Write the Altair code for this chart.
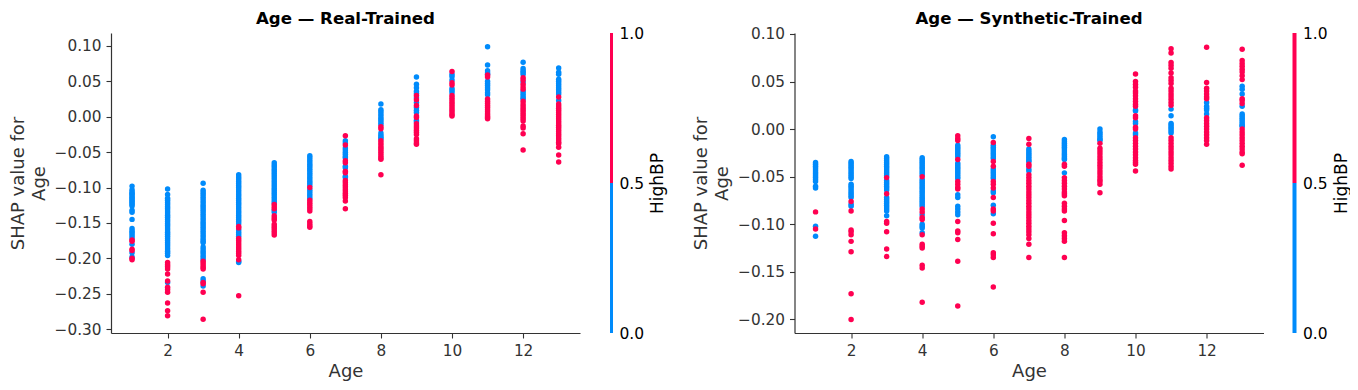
import altair as alt
import pandas as pd

AGES = list(range(1, 14))
TICKS_X = [2, 4, 6, 8, 10, 12]
TICKS_Y_REAL = [0.10, 0.05, 0.0, -0.05, -0.10, -0.15, -0.20, -0.25, -0.30]
TICKS_Y_SYN = [0.10, 0.05, 0.0, -0.05, -0.10, -0.15, -0.20]

REAL_BLUE = {
    1: [-0.098, -0.103, -0.106, -0.108, -0.110, -0.112, -0.114, -0.116, -0.118, -0.120, -0.122, -0.124, -0.126, -0.132, -0.135, -0.145, -0.158, -0.161, -0.163, -0.166, -0.169, -0.172, -0.180, -0.192, -0.198],
    2: [-0.102, -0.110, -0.115, -0.118, -0.121, -0.124, -0.127, -0.130, -0.133, -0.136, -0.139, -0.142, -0.145, -0.148, -0.151, -0.154, -0.157, -0.160, -0.163, -0.166, -0.169, -0.172, -0.175, -0.178, -0.181, -0.184, -0.187, -0.190, -0.193, -0.196, -0.234],
    3: [-0.094, -0.104, -0.107, -0.110, -0.113, -0.116, -0.119, -0.122, -0.125, -0.128, -0.131, -0.134, -0.137, -0.140, -0.143, -0.146, -0.149, -0.152, -0.155, -0.158, -0.161, -0.164, -0.167, -0.170, -0.173, -0.176, -0.178, -0.184, -0.187, -0.190, -0.193, -0.196, -0.199, -0.202, -0.229, -0.232, -0.239],
    4: [-0.082, -0.085, -0.088, -0.091, -0.094, -0.097, -0.100, -0.103, -0.106, -0.109, -0.112, -0.115, -0.118, -0.121, -0.124, -0.127, -0.130, -0.133, -0.136, -0.139, -0.142, -0.145, -0.148, -0.151, -0.160, -0.163, -0.166, -0.169, -0.204, -0.206],
    5: [-0.065, -0.068, -0.071, -0.074, -0.077, -0.080, -0.083, -0.086, -0.089, -0.092, -0.095, -0.098, -0.101, -0.104, -0.107, -0.110, -0.113, -0.116, -0.119, -0.122, -0.132, -0.135],
    6: [-0.055, -0.058, -0.061, -0.064, -0.067, -0.070, -0.073, -0.076, -0.079, -0.082, -0.085, -0.088, -0.091, -0.094, -0.097, -0.103, -0.106, -0.109, -0.112, -0.115],
    7: [-0.034, -0.037, -0.044, -0.047, -0.050, -0.053, -0.056, -0.058, -0.070, -0.072, -0.084, -0.086],
    8: [0.018, 0.010, 0.007, 0.004, 0.001, -0.002, -0.005, -0.008, -0.011, -0.023, -0.026, -0.029, -0.031],
    9: [0.056, 0.046, 0.041, 0.036, 0.033, 0.027, 0.020, 0.013, 0.009, 0.006, -0.005, -0.007],
    10: [0.060, 0.057, 0.052, 0.040, 0.037, 0.034],
    11: [0.099, 0.073, 0.065, 0.062, 0.060, 0.050, 0.047, 0.044, 0.041, 0.038, 0.034, 0.031],
    12: [0.077, 0.068, 0.065, 0.063, 0.060, 0.049, 0.036, 0.033, 0.030, 0.027, 0.025],
    13: [0.069, 0.063, 0.060, 0.053, 0.050, 0.047, 0.044, 0.041, 0.038, 0.035, 0.032, 0.023],
}
REAL_RED = {
    1: [-0.174, -0.176, -0.187, -0.189, -0.200, -0.202],
    2: [-0.206, -0.209, -0.212, -0.215, -0.222, -0.232, -0.241, -0.244, -0.248, -0.263, -0.274, -0.281],
    3: [-0.204, -0.207, -0.210, -0.213, -0.215, -0.234, -0.236, -0.248, -0.286],
    4: [-0.155, -0.157, -0.172, -0.175, -0.178, -0.181, -0.184, -0.187, -0.190, -0.193, -0.196, -0.202, -0.253],
    5: [-0.124, -0.127, -0.130, -0.140, -0.143, -0.146, -0.152, -0.155, -0.158, -0.161, -0.164, -0.167],
    6: [-0.100, -0.118, -0.121, -0.124, -0.127, -0.130, -0.133, -0.148, -0.151, -0.154, -0.156],
    7: [-0.027, -0.040, -0.062, -0.065, -0.077, -0.079, -0.090, -0.093, -0.096, -0.099, -0.102, -0.105, -0.108, -0.111, -0.114, -0.119, -0.130],
    8: [-0.014, -0.017, -0.034, -0.037, -0.040, -0.043, -0.046, -0.049, -0.052, -0.055, -0.058, -0.060, -0.082],
    9: [0.030, 0.024, 0.016, 0.001, -0.001, -0.010, -0.013, -0.016, -0.019, -0.022, -0.025, -0.031, -0.034, -0.037, -0.039],
    10: [0.064, 0.048, 0.045, 0.030, 0.027, 0.024, 0.021, 0.018, 0.015, 0.012, 0.009, 0.006, 0.003, 0.001],
    11: [0.059, 0.056, 0.025, 0.022, 0.019, 0.016, 0.013, 0.010, 0.007, 0.004, 0.001, -0.001, -0.003],
    12: [0.055, 0.052, 0.046, 0.042, 0.039, 0.022, 0.018, 0.015, 0.012, 0.009, 0.006, 0.003, 0.000, -0.003, -0.006, -0.013, -0.016, -0.024, -0.047],
    13: [0.028, 0.018, 0.015, 0.012, 0.009, 0.006, 0.003, 0.000, -0.003, -0.006, -0.009, -0.012, -0.015, -0.018, -0.021, -0.024, -0.027, -0.030, -0.033, -0.036, -0.038, -0.043, -0.054, -0.064],
}
SYN_BLUE = {
    1: [-0.035, -0.037, -0.039, -0.041, -0.043, -0.045, -0.047, -0.049, -0.051, -0.053, -0.055, -0.060, -0.062, -0.102, -0.1125],
    2: [-0.034, -0.036, -0.038, -0.040, -0.042, -0.044, -0.046, -0.048, -0.050, -0.052, -0.058, -0.060, -0.062, -0.064, -0.066, -0.068, -0.070, -0.072, -0.079, -0.081],
    3: [-0.029, -0.031, -0.033, -0.035, -0.037, -0.039, -0.041, -0.043, -0.045, -0.047, -0.049, -0.054, -0.056, -0.058, -0.060, -0.062, -0.064, -0.072, -0.074, -0.076, -0.078, -0.080, -0.082, -0.084, -0.086, -0.091],
    4: [-0.030, -0.032, -0.034, -0.036, -0.038, -0.040, -0.042, -0.044, -0.046, -0.048, -0.053, -0.055, -0.057, -0.059, -0.061, -0.063, -0.065, -0.067, -0.069, -0.071, -0.073, -0.075, -0.077, -0.079, -0.081, -0.090, -0.100, -0.102, -0.104, -0.109],
    5: [-0.017, -0.019, -0.021, -0.023, -0.025, -0.027, -0.029, -0.036, -0.038, -0.040, -0.042, -0.044, -0.046, -0.048, -0.050, -0.052, -0.069, -0.072, -0.081, -0.084, -0.087, -0.090],
    6: [-0.008, -0.017, -0.019, -0.021, -0.023, -0.025, -0.027, -0.029, -0.031, -0.042, -0.044, -0.046, -0.048, -0.050, -0.052, -0.065, -0.067, -0.080, -0.089],
    7: [-0.021, -0.023, -0.025, -0.027, -0.029, -0.031, -0.033, -0.034, -0.042, -0.044],
    8: [-0.011, -0.013, -0.015, -0.017, -0.019, -0.021, -0.023, -0.025, -0.027, -0.029, -0.031, -0.032, -0.046],
    9: [0.000, -0.003, -0.005, -0.007, -0.009, -0.011, -0.012],
    10: [0.020, 0.019, 0.008, 0.006, -0.004, -0.006],
    11: [0.021, 0.014, 0.006, 0.004, 0.002, 0.000, -0.002, -0.004],
    12: [0.028, 0.024, 0.022, 0.020, 0.016],
    13: [0.045, 0.042, 0.037, 0.024, 0.016, 0.014, 0.012, 0.010, 0.008, 0.006, 0.004, 0.003],
}
SYN_RED = {
    1: [-0.087, -0.105],
    2: [-0.076, -0.086, -0.106, -0.108, -0.111, -0.118, -0.129, -0.173, -0.200],
    3: [-0.051, -0.068, -0.097, -0.099, -0.108, -0.126, -0.134],
    4: [-0.050, -0.084, -0.087, -0.093, -0.095, -0.111, -0.121, -0.123, -0.125, -0.143, -0.146, -0.182],
    5: [-0.007, -0.010, -0.012, -0.032, -0.055, -0.058, -0.061, -0.063, -0.097, -0.107, -0.109, -0.116, -0.139, -0.186],
    6: [-0.014, -0.034, -0.039, -0.055, -0.058, -0.062, -0.072, -0.084, -0.086, -0.099, -0.110, -0.130, -0.132, -0.135, -0.166],
    7: [-0.010, -0.016, -0.037, -0.039, -0.048, -0.051, -0.054, -0.057, -0.060, -0.063, -0.066, -0.069, -0.072, -0.075, -0.078, -0.081, -0.084, -0.087, -0.090, -0.093, -0.096, -0.099, -0.102, -0.105, -0.108, -0.111, -0.115, -0.121, -0.135],
    8: [-0.037, -0.039, -0.051, -0.054, -0.057, -0.060, -0.063, -0.066, -0.068, -0.070, -0.078, -0.081, -0.084, -0.086, -0.096, -0.109, -0.112, -0.115, -0.118, -0.135],
    9: [-0.015, -0.020, -0.023, -0.026, -0.029, -0.032, -0.035, -0.038, -0.041, -0.044, -0.047, -0.050, -0.053, -0.055, -0.058, -0.067],
    10: [0.058, 0.050, 0.047, 0.044, 0.040, 0.038, 0.035, 0.032, 0.029, 0.026, 0.024, 0.014, 0.012, 0.002, 0.000, -0.009, -0.012, -0.015, -0.018, -0.021, -0.024, -0.027, -0.030, -0.033, -0.035, -0.037, -0.044],
    11: [0.0845, 0.080, 0.070, 0.067, 0.064, 0.059, 0.054, 0.051, 0.048, 0.043, 0.040, 0.037, 0.034, 0.031, 0.028, 0.025, -0.009, -0.012, -0.015, -0.018, -0.021, -0.024, -0.027, -0.030, -0.033, -0.036, -0.039, -0.042],
    12: [0.086, 0.049, 0.043, 0.040, 0.037, 0.034, 0.032, 0.012, 0.009, 0.006, 0.003, 0.000, -0.003, -0.006, -0.009, -0.012, -0.016],
    13: [0.084, 0.072, 0.069, 0.066, 0.063, 0.060, 0.056, 0.052, 0.032, 0.030, 0.027, 0.000, -0.003, -0.006, -0.009, -0.012, -0.015, -0.018, -0.021, -0.024, -0.026, -0.038],
}
COLORBAR_START = [0.0, 0.5]
COLORBAR_END = [0.5, 1.0]
COLORBAR_COLOR = ["#008bfb", "#ff0051"]
FONT = "DejaVu Sans"
DARK = "#333333"


def table(blue, red):
    rows = []
    for age in AGES:
        rows += [{"Age": age, "shap": v, "c": "#008bfb"} for v in blue[age]]
    for age in AGES:
        rows += [{"Age": age, "shap": v, "c": "#ff0051"} for v in red[age]]
    return pd.DataFrame(rows)


def panel(blue, red, title, ydom, yticks, title_offset):
    return (
        alt.Chart(table(blue, red), title=alt.TitleParams(title, fontSize=16.6, fontWeight="bold", font=FONT, color="black", anchor="middle", offset=title_offset))
        .mark_circle(size=30, opacity=1)
        .encode(
            x=alt.X("Age:Q", scale=alt.Scale(domain=[0.408, 13.6], nice=False, zero=False),
                    axis=alt.Axis(values=TICKS_X, title="Age", grid=False, labelFlush=False, labelPadding=5, titlePadding=4)),
            y=alt.Y("shap:Q", scale=alt.Scale(domain=ydom, nice=False, zero=False),
                    axis=alt.Axis(values=yticks, format=".2f", title=["SHAP value for", "Age"], grid=False, titlePadding=6, labelPadding=5, titleLineHeight=21)),
            color=alt.Color("c:N", scale=None),
        )
        .properties(width=469, height=300)
    )


def colorbar(w):
    cb = pd.DataFrame({"a": COLORBAR_START, "b": COLORBAR_END, "c": COLORBAR_COLOR})
    return (
        alt.Chart(cb).mark_rect().encode(
            y=alt.Y("a:Q", scale=alt.Scale(domain=[0, 1], nice=False),
                    axis=alt.Axis(orient="right", values=[0, 0.5, 1], format=".1f", title="HighBP", tickSize=0, domain=False, grid=False,
                                  labelColor="black", titleColor="black", labelPadding=6, labelFontSize=15.5, titleFontSize=17, titleAngle=270, titleBaseline="top", titlePadding=6)),
            y2="b:Q",
            x=alt.value(0), x2=alt.value(w),
            color=alt.Color("c:N", scale=None),
        ).properties(width=w, height=300)
    )


left_group = alt.hconcat(
    panel(REAL_BLUE, REAL_RED, "Age — Real-Trained", [-0.3055, 0.1183], TICKS_Y_REAL, 5),
    colorbar(3),
    spacing=30,
)
right_group = alt.hconcat(
    panel(SYN_BLUE, SYN_RED, "Age — Synthetic-Trained", [-0.2143, 0.101], TICKS_Y_SYN, -1),
    colorbar(4),
    spacing=29,
)
chart = (
    alt.hconcat(left_group, right_group, spacing=26.5)
    .properties(padding={"left": 1, "top": 3, "right": 0, "bottom": 0})
    .configure_view(stroke=None)
    .configure_axis(labelFont=FONT, titleFont=FONT, labelFontSize=15.3, titleFontSize=18, labelColor=DARK, titleColor=DARK,
                    domainColor=DARK, tickColor=DARK, tickSize=5, domainWidth=1.2, tickWidth=1.1, titleFontWeight="normal")
)
chart.save("out.html", embed_options={"renderer": "svg", "actions": False})
